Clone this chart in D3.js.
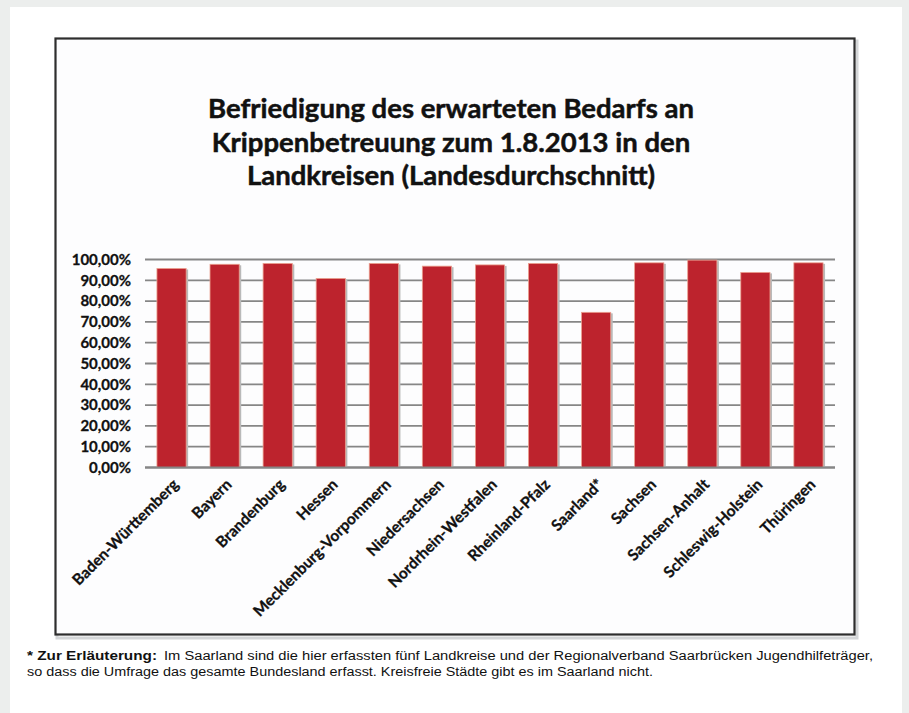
<!DOCTYPE html>
<html>
<head>
<meta charset="utf-8">
<script src="https://cdn.jsdelivr.net/npm/d3@7"></script>
<style>
  html, body { margin: 0; padding: 0; background: #eceeed; }
  svg { display: block; }
</style>
</head>
<body>
<svg id="graph"></svg>
<script>
const laender = ["Baden-Württemberg", "Bayern", "Brandenburg", "Hessen",
  "Mecklenburg-Vorpommern", "Niedersachsen", "Nordrhein-Westfalen",
  "Rheinland-Pfalz", "Saarland*", "Sachsen", "Sachsen-Anhalt",
  "Schleswig-Holstein", "Thüringen"];
const befriedigung = [0.957, 0.977, 0.981, 0.909, 0.981, 0.968, 0.974,
  0.981, 0.746, 0.984, 0.997, 0.938, 0.984];
const yTicks = [0, 0.1, 0.2, 0.3, 0.4, 0.5, 0.6, 0.7, 0.8, 0.9, 1.0];
const titleLines = ["Befriedigung des erwarteten Bedarfs an",
  "Krippenbetreuung zum 1.8.2013 in den",
  "Landkreisen (Landesdurchschnitt)"];
const noteLabel = "* Zur Erläuterung:";
const noteLines = [
  "Im Saarland sind die hier erfassten fünf Landkreise und der Regionalverband Saarbrücken Jugendhilfeträger,",
  "so dass die Umfrage das gesamte Bundesland erfasst. Kreisfreie Städte gibt es im Saarland nicht."
];

const width = 909, height = 713;
const margin = { top: 259.5, right: 74, bottom: 245.5, left: 145 };
const chartFont = "Lato, 'Open Sans', sans-serif";

const svg = d3.select("#graph")
  .attr("width", width)
  .attr("height", height);

// page card
svg.append("rect")
  .attr("x", 10).attr("y", 7)
  .attr("width", 892).attr("height", 720)
  .attr("fill", "#ffffff");

// chart frame with soft shadow
svg.append("rect")
  .attr("x", 57).attr("y", 41)
  .attr("width", 800).attr("height", 597)
  .attr("fill", "none")
  .attr("stroke", "#d4d6d8").attr("stroke-width", 3);
svg.append("rect")
  .attr("x", 55.5).attr("y", 38.5)
  .attr("width", 799).attr("height", 596)
  .attr("fill", "#fdfdfe")
  .attr("stroke", "#2e2e2e").attr("stroke-width", 2.2);

// title
svg.append("g")
  .selectAll("text")
  .data(titleLines)
  .join("text")
  .attr("x", 451)
  .attr("y", (d, i) => 118 + i * 33.5)
  .attr("text-anchor", "middle")
  .attr("font-family", chartFont)
  .attr("font-weight", "bold")
  .attr("font-size", 27.5)
  .attr("fill", "#111")
  .attr("stroke", "#111")
  .attr("stroke-width", 0.5)
  .text(d => d);

const xScale = d3.scaleBand()
  .domain(laender)
  .range([margin.left, width - margin.right])
  .paddingInner(0.45)
  .paddingOuter(0.225);

const yScale = d3.scaleLinear()
  .domain([0, 1])
  .range([height - margin.bottom, margin.top]);

// gridlines
svg.append("g")
  .selectAll("line")
  .data(yTicks)
  .join("line")
  .attr("x1", margin.left)
  .attr("x2", width - margin.right)
  .attr("y1", d => yScale(d))
  .attr("y2", d => yScale(d))
  .attr("stroke", "#868686")
  .attr("stroke-width", 1.8);

// y labels
const yAxis = d3.axisLeft(yScale)
  .tickValues(yTicks)
  .tickSize(0)
  .tickPadding(14)
  .tickFormat(d => d3.format(".2f")(d * 100).replace(".", ",") + "%");

const yAxisGroup = svg.append("g")
  .attr("transform", `translate(${margin.left},0)`)
  .call(yAxis);
yAxisGroup.select(".domain").remove();
yAxisGroup.selectAll("text")
  .attr("font-family", chartFont)
  .attr("font-weight", "bold")
  .attr("font-size", 15)
  .attr("fill", "#111")
  .attr("stroke", "#111")
  .attr("stroke-width", 0.3);

// bars: shadow then fill
const bars = svg.append("g");
bars.selectAll("rect.shadow")
  .data(befriedigung)
  .join("rect")
  .attr("class", "shadow")
  .attr("x", (d, i) => xScale(laender[i]) + 2)
  .attr("y", d => yScale(d) + 1)
  .attr("width", xScale.bandwidth())
  .attr("height", d => yScale(0) - yScale(d) - 1)
  .attr("fill", "#b9b9b9");
bars.selectAll("rect.bar")
  .data(befriedigung)
  .join("rect")
  .attr("class", "bar")
  .attr("x", (d, i) => xScale(laender[i]))
  .attr("y", d => yScale(d))
  .attr("width", xScale.bandwidth())
  .attr("height", d => yScale(0) - yScale(d))
  .attr("fill", "#bd232d")
  .attr("stroke", "#eba08f")
  .attr("stroke-width", 0.8);

// baseline
svg.append("line")
  .attr("x1", margin.left)
  .attr("x2", width - margin.right)
  .attr("y1", yScale(0))
  .attr("y2", yScale(0))
  .attr("stroke", "#868686")
  .attr("stroke-width", 1.8);

// x labels, rotated
const xAxis = d3.axisBottom(xScale).tickSize(0).tickPadding(0);
const xAxisGroup = svg.append("g")
  .attr("transform", `translate(0,${yScale(0)})`)
  .call(xAxis);
xAxisGroup.select(".domain").remove();
xAxisGroup.selectAll("text")
  .attr("font-family", chartFont)
  .attr("font-weight", "bold")
  .attr("font-size", 15.5)
  .attr("fill", "#111")
  .attr("stroke", "#111")
  .attr("stroke-width", 0.3)
  .attr("text-anchor", "end")
  .attr("dy", null)
  .attr("transform", "translate(8,18) rotate(-45)");

// footnote
const note = svg.append("g")
  .attr("font-family", "'Liberation Sans', Arial, sans-serif")
  .attr("font-size", 12.5)
  .attr("fill", "#111");
note.append("text")
  .attr("x", 27).attr("y", 660)
  .attr("font-weight", "bold")
  .attr("textLength", 130)
  .attr("lengthAdjust", "spacingAndGlyphs")
  .text(noteLabel);
const noteX = [164, 27], noteWidths = [709, 626];
note.selectAll("text.line")
  .data(noteLines)
  .join("text")
  .attr("class", "line")
  .attr("x", (d, i) => noteX[i])
  .attr("y", (d, i) => 660 + i * 15.5)
  .attr("textLength", (d, i) => noteWidths[i])
  .attr("lengthAdjust", "spacingAndGlyphs")
  .text(d => d);
</script>
</body>
</html>
